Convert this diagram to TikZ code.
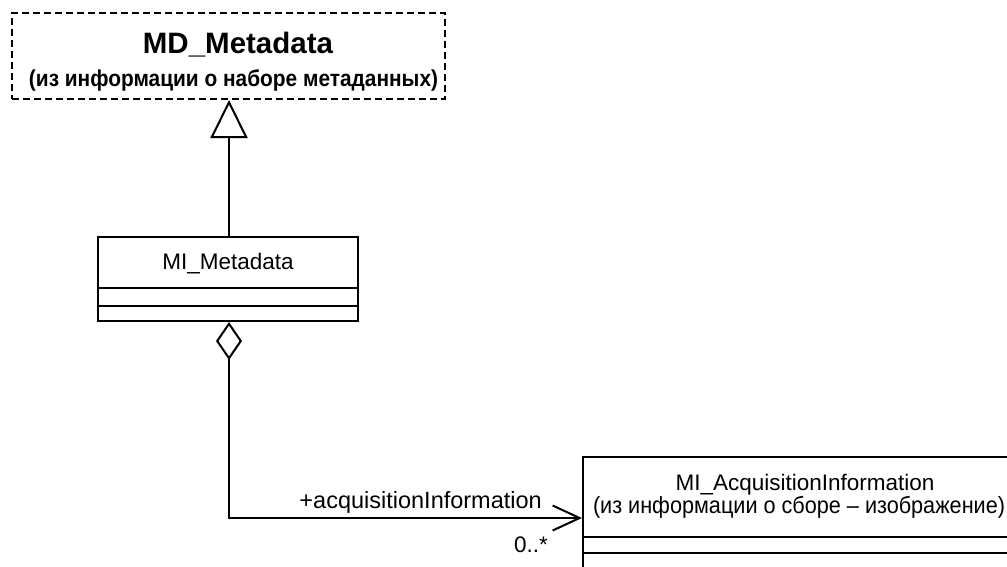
\documentclass[tikz,border=0pt]{standalone}
\usepackage{fontspec}
\usepackage{graphicx}
\setmainfont{Liberation Sans}
\usetikzlibrary{arrows.meta}
\begin{document}
\begin{tikzpicture}[x=1pt,y=-1pt,
  umlbox/.style={draw, line width=2pt, inner sep=0pt, fill=white},
  dashbox/.style={umlbox, dash pattern=on 7pt off 4pt},
  lbl/.style={anchor=base, inner sep=0pt, font=\fontsize{22.5}{26}\selectfont},
  biglbl/.style={anchor=base, inner sep=0pt, font=\fontsize{29.5}{34}\selectfont\bfseries},
  midlbl/.style={anchor=base, inner sep=0pt, font=\fontsize{23}{27}\selectfont\bfseries},
  conn/.style={line width=2pt}
]
\useasboundingbox (0,0) rectangle (1007,566);
\clip (0,0) rectangle (1007,566);
% MD_Metadata
\node[dashbox, minimum width=433pt, minimum height=86pt] (md) at (228.5,56) {};
\node[biglbl] (mdt1) at (238,53) {MD\_Metadata};
\node[midlbl] (mdt2) at (233.5,86) {\resizebox{409pt}{\height}{(из информации о наборе метаданных)}};
% MI_Metadata
\node[umlbox, minimum width=260pt, minimum height=84pt] (mi) at (228,279) {};
\node[lbl] (mit) at (228,269) {MI\_Metadata};
\draw[line width=2pt] (mi.west |- 0,288) -- (mi.east |- 0,288);
\draw[line width=2pt] (mi.west |- 0,306) -- (mi.east |- 0,306);
% MI_AcquisitionInformation
\node[umlbox, minimum width=436pt, minimum height=200pt] (acq) at (801,557) {};
\node[lbl] (acqt1) at (805,490) {MI\_AcquisitionInformation};
\node[lbl, font=\fontsize{23.5}{27}\selectfont] (acqt2) at (799,513) {\resizebox{412pt}{\height}{(из информации о сборе – изображение)}};
\draw[line width=2pt] (acq.west |- 0,537) -- (acq.east |- 0,537);
\draw[line width=2pt] (acq.west |- 0,553) -- (acq.east |- 0,553);
% generalization
\draw[conn, -{Triangle[open, length=38pt, width=37pt, line width=2pt]}] (mi.north -| 229,0) -- (md.south -| 229,0);
% aggregation
\coordinate (bend) at (229,518);
\draw[conn, {Diamond[open, length=38pt, width=26pt, line width=2pt]}-{Straight Barb[length=27pt, width=25pt, line width=2pt]}]
  (mi.south -| 229,0) -- (bend) -- (acq.west |- bend);
\node[lbl, anchor=base east, font=\fontsize{23.5}{27}\selectfont] (role) at (542,508) {+acquisitionInformation};
\node[lbl, anchor=base east] (mult) at (548,552) {0..*};
\end{tikzpicture}
\end{document}
